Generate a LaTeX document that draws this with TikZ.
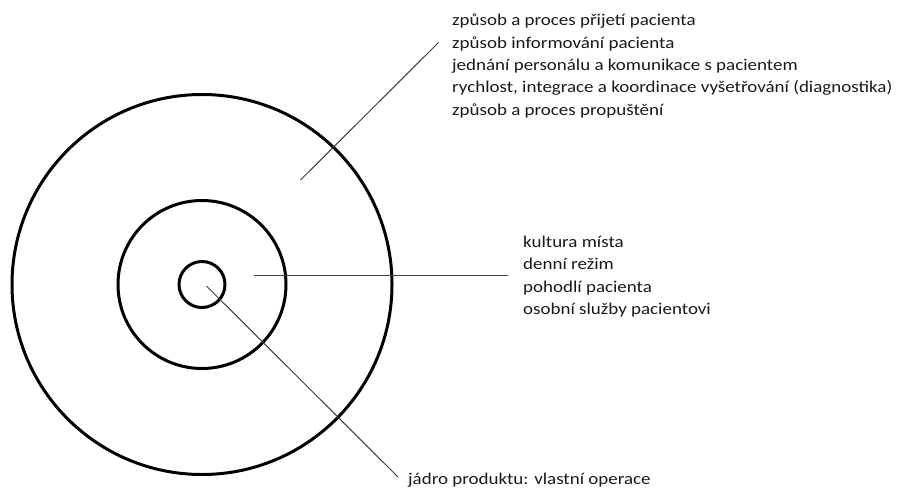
\documentclass[tikz,border=0pt]{standalone}
\usepackage{fontspec}
\setmainfont{Carlito}[FakeStretch=1.15]
\begin{document}
\begin{tikzpicture}[x=1pt,y=-1pt,
  ring/.style={draw=black,line width=3pt},
  leader/.style={draw=black!75,line width=1pt},
  label/.style={inner sep=0pt,anchor=base west,align=left,font=\fontsize{16.5}{22.3}\selectfont,text=black!90}]
\useasboundingbox (0,0) rectangle (902,488);
\coordinate (c) at (202,284.5);
\draw[ring] (c) circle[radius=190];
\draw[ring] (c) circle[radius=84];
\draw[ring] (c) circle[radius=23];
\node[label] (t1) at (452,115) {způsob a proces přijetí pacienta\\způsob informování pacienta\\jednání personálu a komunikace s pacientem\\rychlost, integrace a koordinace vyšetřování (diagnostika)\\způsob a proces propuštění};
\node[label] (t2) at (523,314.3) {kultura místa\\denní režim\\pohodlí pacienta\\osobní služby pacientovi};
\node[label] (t3) at (408,484) {jádro produktu: vlastní operace};
\coordinate (a1) at (300.5,180);
\coordinate (b1) at (438.5,42.5);
\coordinate (a2) at (254,275);
\coordinate (b2) at (508,275);
\coordinate (a3) at (206.5,286);
\coordinate (b3) at (398,477);
\draw[leader] (a1) -- (b1);
\draw[leader] (a2) -- (b2);
\draw[leader] (a3) -- (b3);
\end{tikzpicture}
\end{document}
